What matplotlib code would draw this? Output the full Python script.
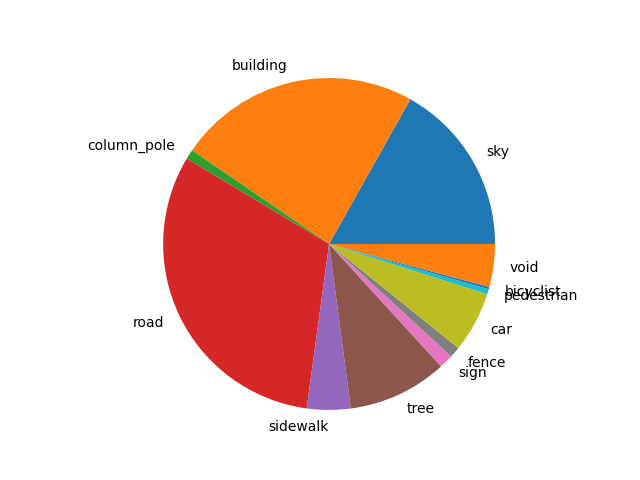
import matplotlib
matplotlib.use('Agg')
import matplotlib.pyplot as plt

labels = ['sky', 'building', 'column_pole', 'road', 'sidewalk', 'tree',
          'sign', 'fence', 'car', 'pedestrian', 'bicyclist', 'void']
shares = [16.86, 23.6, 0.95, 31.45, 4.25, 9.7, 1.36, 1.06, 5.9, 0.5, 0.22, 4.17]

fig, ax = plt.subplots(figsize=(6.4, 4.8), dpi=100)
ax.pie(shares, labels=labels)
ax.set_xlim(-1.12, 1.107)
ax.set_ylim(-1.104, 1.123)

fig.savefig('out.png')
